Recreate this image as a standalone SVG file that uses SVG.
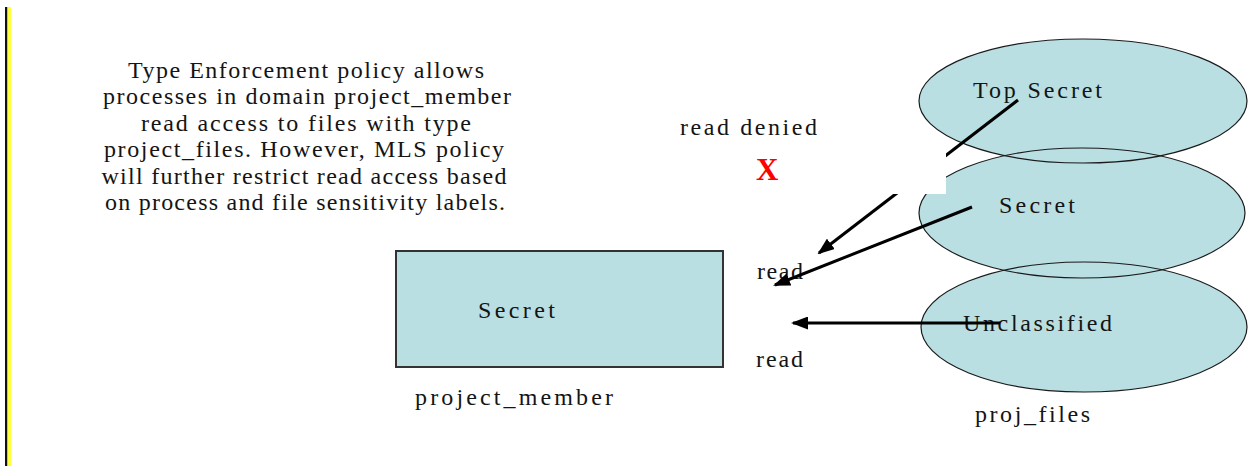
<svg xmlns="http://www.w3.org/2000/svg" width="1251" height="466" viewBox="0 0 1251 466">
  <style>
    .t { font-family: "Liberation Serif", "Times New Roman", serif; font-size: 24px; fill: #141414; }
    .p { font-family: "Liberation Serif", "Times New Roman", serif; font-size: 24px; fill: #141414; text-anchor: middle; }
    .fill { fill: #b9dfe3; stroke: none; }
    .outline { fill: none; stroke: #1a1a1a; stroke-width: 1.2; }
    .box { fill: #b9dfe3; stroke: #333; stroke-width: 2; }
    .arrow { stroke: #000; stroke-width: 3; fill: none; marker-end: url(#ah); }
    .x { font-family: "Liberation Serif", "Times New Roman", serif; font-size: 31px; font-weight: bold; fill: #ff0000; }
  </style>
  <defs>
    <marker id="ah" markerUnits="userSpaceOnUse" markerWidth="17" markerHeight="13" refX="15" refY="6.5" orient="auto">
      <path d="M0,0 L17,6.5 L0,13 z" fill="#000"/>
    </marker>
  </defs>
  <rect x="0" y="0" width="1251" height="466" fill="#ffffff"/>
  <g id="border">
    <rect x="5" y="7" width="2.5" height="459" fill="#111"/>
    <rect x="7.5" y="7" width="3.5" height="459" fill="#ffff3c"/>
  </g>
  <g id="policy-note">
    <text class="p" x="306" y="78" textLength="356" lengthAdjust="spacing">Type Enforcement policy allows</text>
    <text class="p" x="307" y="104" textLength="408" lengthAdjust="spacing">processes in domain project_member</text>
    <text class="p" x="306" y="131" textLength="330" lengthAdjust="spacing">read access to files with type</text>
    <text class="p" x="304" y="157" textLength="400" lengthAdjust="spacing">project_files. However, MLS policy</text>
    <text class="p" x="304" y="184" textLength="405" lengthAdjust="spacing">will further restrict read access based</text>
    <text class="p" x="305" y="210" textLength="400" lengthAdjust="spacing">on process and file sensitivity labels.</text>
  </g>
  <g id="node-project-member">
    <rect class="box" x="396" y="251" width="327" height="116"/>
    <text class="t" x="478" y="318" textLength="77" lengthAdjust="spacing">Secret</text>
    <text class="t" x="415" y="405" textLength="198" lengthAdjust="spacing">project_member</text>
  </g>
  <g id="node-top-secret">
    <ellipse class="fill" cx="1083" cy="101" rx="164" ry="62"/>
    <text class="t" x="973" y="98" textLength="129" lengthAdjust="spacing">Top Secret</text>
  </g>
  <g id="node-secret">
    <ellipse class="fill" cx="1082" cy="213" rx="163" ry="65"/>
    <text class="t" x="999" y="213" textLength="76" lengthAdjust="spacing">Secret</text>
  </g>
  <g id="node-unclassified">
    <ellipse class="fill" cx="1084" cy="327" rx="163" ry="65"/>
    <text class="t" x="963" y="331" textLength="149" lengthAdjust="spacing">Unclassified</text>
  </g>
  <g id="ellipse-outlines">
    <ellipse class="outline" cx="1083" cy="101" rx="164" ry="62"/>
    <ellipse class="outline" cx="1082" cy="213" rx="163" ry="65"/>
    <ellipse class="outline" cx="1084" cy="327" rx="163" ry="65"/>
  </g>
  <text class="t" x="975" y="422" textLength="115" lengthAdjust="spacing">proj_files</text>
  <g id="labels">
    <text class="t" x="680" y="135" textLength="137" lengthAdjust="spacing">read denied</text>
    <text class="x" x="756" y="180">X</text>
    <text class="t" x="757" y="279" textLength="46" lengthAdjust="spacing">read</text>
    <text class="t" x="756" y="367" textLength="47" lengthAdjust="spacing">read</text>
  </g>
  <g id="connectors">
    <line class="arrow" x1="1018" y1="100" x2="819" y2="253"/>
    <line class="arrow" x1="972" y1="207" x2="775" y2="285"/>
    <line class="arrow" x1="1000" y1="323" x2="793" y2="323"/>
  </g>
  <rect x="850" y="153" width="96" height="41" fill="#ffffff"/>
</svg>
